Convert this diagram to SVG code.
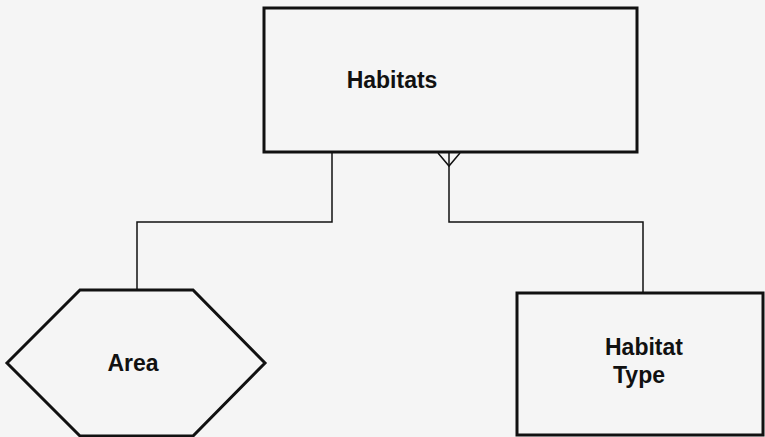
<svg xmlns="http://www.w3.org/2000/svg" width="765" height="437" viewBox="0 0 765 437">
<style>
.node{fill:#f5f5f5;stroke:#111;stroke-width:3}
.conn{fill:none;stroke:#111;stroke-width:1.5}
.lbl{font-family:"Liberation Sans",Arial,sans-serif;font-weight:bold;font-size:23px;fill:#111}
</style>
<rect x="0" y="0" width="765" height="437" fill="#f5f5f5"/>
<g id="connectors">
<polyline class="conn" points="332,152 332,222 137,222 137,290"/>
<polyline class="conn" points="449,152 449,222 643,222 643,293"/>
<polyline class="conn" points="438,153 449,166 460,153"/>
</g>
<g id="habitats">
<rect class="node" x="264" y="8" width="373" height="144"/>
<text class="lbl" x="392" y="88" text-anchor="middle">Habitats</text>
</g>
<g id="area">
<polygon class="node" points="80,290 193,290 265,363 193,436 80,436 7,363"/>
<text class="lbl" x="133" y="371" text-anchor="middle">Area</text>
</g>
<g id="habitat-type">
<rect class="node" x="517" y="293" width="246" height="142"/>
<text class="lbl" x="605" y="355">Habitat</text>
<text class="lbl" x="613" y="383">Type</text>
</g>
</svg>
